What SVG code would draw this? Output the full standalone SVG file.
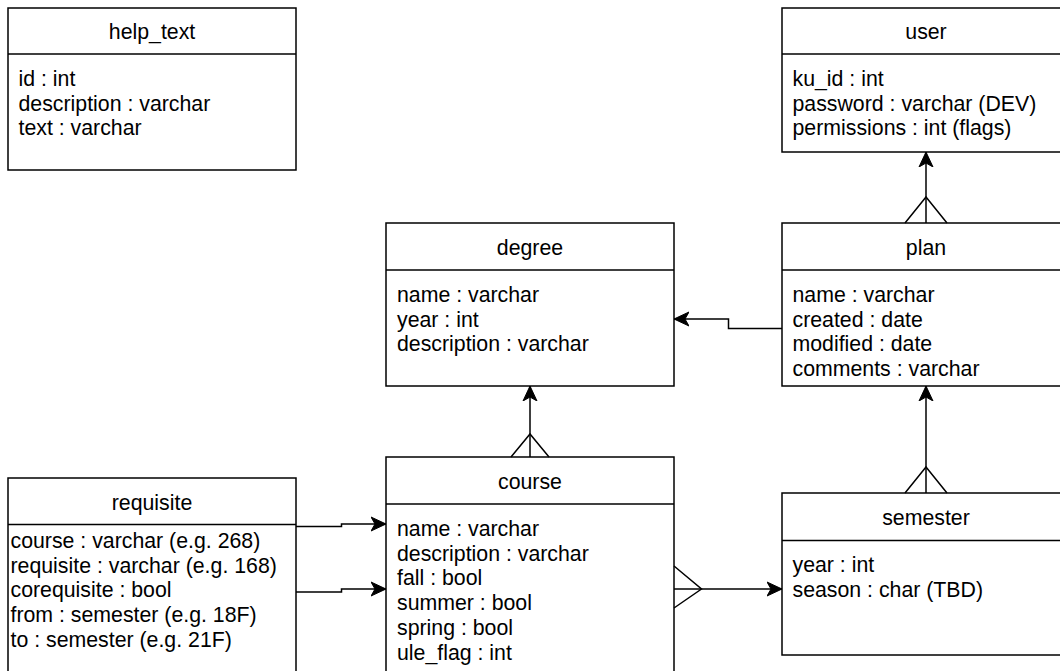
<svg xmlns="http://www.w3.org/2000/svg" width="1060" height="671" viewBox="0 0 1060 671">
<defs>
<style>
.box{fill:#fff;stroke:#000;stroke-width:1.5}
.hd{stroke:#000;stroke-width:1.5}
.t{font-family:"Liberation Sans",Arial,sans-serif;font-size:21.3px;fill:#000}
.c{text-anchor:middle}
.ln{fill:none;stroke:#000;stroke-width:1.5}
</style>
<marker id="arr" viewBox="0 0 16 16" refX="15" refY="8" markerWidth="16" markerHeight="16" markerUnits="userSpaceOnUse" orient="auto">
<path d="M15,8 L0,1 L4,8 L0,15 Z" fill="#000" stroke="#000" stroke-width="1"/>
</marker>
</defs>
<rect width="1060" height="671" fill="#fff"/>

<g id="help_text">
<rect class="box" x="8" y="8" width="288" height="162"/>
<line class="hd" x1="8" y1="54" x2="296" y2="54"/>
<text class="t c" x="152" y="38.5">help_text</text>
<text class="t" x="18.5" y="86">id : int</text>
<text class="t" x="18.5" y="110.7">description : varchar</text>
<text class="t" x="18.5" y="135.4">text : varchar</text>
</g>

<g id="user">
<rect class="box" x="782" y="8" width="288" height="144"/>
<line class="hd" x1="782" y1="54" x2="1070" y2="54"/>
<text class="t c" x="926" y="38.5">user</text>
<text class="t" x="792.5" y="86">ku_id : int</text>
<text class="t" x="792.5" y="110.7">password : varchar (DEV)</text>
<text class="t" x="792.5" y="135.4">permissions : int (flags)</text>
</g>

<g id="degree">
<rect class="box" x="386" y="223" width="288" height="163"/>
<line class="hd" x1="386" y1="270" x2="674" y2="270"/>
<text class="t c" x="530" y="254.5">degree</text>
<text class="t" x="397" y="302">name : varchar</text>
<text class="t" x="397" y="326.7">year : int</text>
<text class="t" x="397" y="351.4">description : varchar</text>
</g>

<g id="plan">
<rect class="box" x="782" y="223" width="288" height="163"/>
<line class="hd" x1="782" y1="270" x2="1070" y2="270"/>
<text class="t c" x="926" y="254.5">plan</text>
<text class="t" x="792.5" y="302">name : varchar</text>
<text class="t" x="792.5" y="326.7">created : date</text>
<text class="t" x="792.5" y="351.4">modified : date</text>
<text class="t" x="792.5" y="376.1">comments : varchar</text>
</g>

<g id="course">
<rect class="box" x="386" y="457" width="288" height="250"/>
<line class="hd" x1="386" y1="504" x2="674" y2="504"/>
<text class="t c" x="530" y="488.5">course</text>
<text class="t" x="397" y="536">name : varchar</text>
<text class="t" x="397" y="560.7">description : varchar</text>
<text class="t" x="397" y="585.4">fall : bool</text>
<text class="t" x="397" y="610.1">summer : bool</text>
<text class="t" x="397" y="634.8">spring : bool</text>
<text class="t" x="397" y="659.5">ule_flag : int</text>
</g>

<g id="requisite">
<rect class="box" x="8" y="478" width="288" height="230"/>
<line class="hd" x1="8" y1="524.5" x2="296" y2="524.5"/>
<text class="t c" x="152" y="509.5">requisite</text>
<text class="t" x="10.5" y="548">course : varchar (e.g. 268)</text>
<text class="t" x="10.5" y="572.7">requisite : varchar (e.g. 168)</text>
<text class="t" x="10.5" y="597.4">corequisite : bool</text>
<text class="t" x="10.5" y="622.1">from : semester (e.g. 18F)</text>
<text class="t" x="10.5" y="646.8">to : semester (e.g. 21F)</text>
</g>

<g id="semester">
<rect class="box" x="782" y="493" width="288" height="162"/>
<line class="hd" x1="782" y1="540.5" x2="1070" y2="540.5"/>
<text class="t c" x="926" y="524.5">semester</text>
<text class="t" x="792.5" y="572">year : int</text>
<text class="t" x="792.5" y="596.7">season : char (TBD)</text>
</g>

<g id="connectors">
<path class="ln" d="M926,223 L926,152" marker-end="url(#arr)"/>
<path class="ln" d="M905,223 L926,197 L947,223"/>
<path class="ln" d="M530,457 L530,386" marker-end="url(#arr)"/>
<path class="ln" d="M511,457 L530,434 L549,457"/>
<path class="ln" d="M926,493 L926,386" marker-end="url(#arr)"/>
<path class="ln" d="M905,493 L926,467 L947,493"/>
<path class="ln" d="M782,328.5 L728.5,328.5 L728.5,319 L674,319" marker-end="url(#arr)"/>
<path class="ln" d="M674,589 L782,589" marker-end="url(#arr)"/>
<path class="ln" d="M674,566 L701.5,589 L674,608"/>
<path class="ln" d="M296,526.5 L341.5,526.5 L341.5,524 L386,524" marker-end="url(#arr)"/>
<path class="ln" d="M296,592 L341.5,592 L341.5,589 L386,589" marker-end="url(#arr)"/>
</g>
</svg>
